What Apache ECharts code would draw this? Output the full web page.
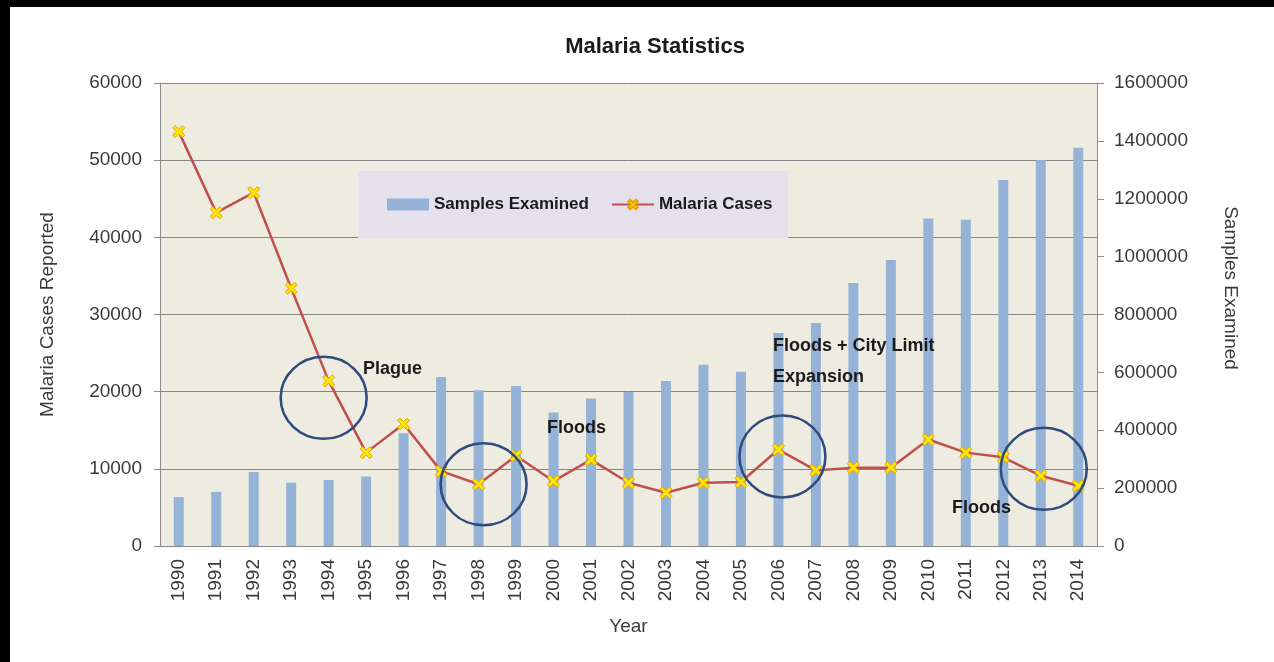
<!DOCTYPE html>
<html>
<head>
<meta charset="utf-8">
<script src="https://cdn.jsdelivr.net/npm/echarts@6/dist/echarts.min.js"></script>
<style>
html,body{margin:0;padding:0;background:#fff;}
#chart{width:1274px;height:662px;}
</style>
</head>
<body>
<div id="chart"></div>
<script>
var years = ['1990','1991','1992','1993','1994','1995','1996','1997','1998','1999','2000','2001','2002','2003','2004','2005','2006','2007','2008','2009','2010','2011','2012','2013','2014'];
var malariaCases = [53700,43200,45800,33400,21400,12100,15800,9700,8000,11700,8400,11200,8200,6900,8200,8300,12500,9800,10150,10150,13800,12100,11500,9100,7800];
var samplesExamined = [169000,187000,256000,219000,228000,240000,390000,584000,538000,553000,461000,510000,532000,570000,626000,602000,736000,771000,909000,988000,1132000,1127000,1265000,1334000,1376000];
var leftTicks = {min:0, max:60000, interval:10000};
var rightTicks = {min:0, max:1600000, interval:200000};

var FONT = "'Liberation Sans', Arial, sans-serif";
var chart = echarts.init(document.getElementById('chart'));

function plain(v) { return String(v); }

function circleMark(year, value, dx) {
  return {coord:[year, value], symbol:'circle', symbolSize:[86,82], symbolOffset:[dx,0],
    itemStyle:{color:'rgba(0,0,0,0)', borderColor:'#2F4B7C', borderWidth:2.5}, label:{show:false}};
}

var option = {
  backgroundColor:'#ffffff',
  animation:false,
  title:{
    text:'Malaria Statistics', left:650, top:31, textAlign:'center',
    textStyle:{fontFamily:FONT, fontWeight:'bold', fontSize:22, color:'#1a1a1a'}
  },
  legend:{
    left:358, top:171,
    padding:[25,16,25,29],
    backgroundColor:'#E5E1EC',
    itemWidth:42, itemHeight:12, itemGap:22,
    textStyle:{fontFamily:FONT, fontWeight:'bold', fontSize:17, color:'#1a1a1a'},
    data:[{name:'Samples Examined', icon:'rect'}, {name:'Malaria Cases'}]
  },
  grid:{left:160, right:177, top:83, bottom:116, show:true, backgroundColor:'#EEECE1', borderWidth:0},
  xAxis:{
    type:'category', data:years, boundaryGap:true,
    name:'Year', nameLocation:'middle', nameGap:71,
    nameTextStyle:{fontFamily:FONT, fontSize:19, color:'#3a3a3a'},
    axisLine:{show:true, lineStyle:{color:'#878787'}},
    axisTick:{show:false},
    axisLabel:{rotate:90, margin:13, fontFamily:FONT, fontSize:19, color:'#3a3a3a'}
  },
  yAxis:[{
    type:'value', min:leftTicks.min, max:leftTicks.max, interval:leftTicks.interval,
    name:'Malaria Cases Reported', nameLocation:'middle', nameGap:103, nameRotate:90,
    nameTextStyle:{fontFamily:FONT, fontSize:19, color:'#3a3a3a'},
    axisLine:{show:true, lineStyle:{color:'#8c8c8c'}},
    axisTick:{show:true, length:6, lineStyle:{color:'#8c8c8c'}},
    axisLabel:{margin:18, fontFamily:FONT, fontSize:19, color:'#3a3a3a', formatter:plain},
    splitLine:{show:true, lineStyle:{color:'#858585', width:1}}
  },{
    type:'value', position:'right', min:rightTicks.min, max:rightTicks.max, interval:rightTicks.interval,
    axisLine:{show:true, lineStyle:{color:'#8c8c8c'}},
    axisTick:{show:true, length:7, lineStyle:{color:'#8c8c8c'}},
    axisLabel:{margin:17, fontFamily:FONT, fontSize:19, color:'#3a3a3a', formatter:plain},
    splitLine:{show:false}
  }],
  series:[{
    name:'Samples Examined', type:'bar', yAxisIndex:1, data:samplesExamined,
    barWidth:10, itemStyle:{color:'#95B3D7'}, z:2
  },{
    name:'Malaria Cases', type:'line', yAxisIndex:0, data:malariaCases,
    lineStyle:{color:'#C0504D', width:2.5},
    itemStyle:{color:'#FFE600', borderColor:'#E8A400', borderWidth:1},
    symbol:'path://M0,2 L2,0 L5,3 L8,0 L10,2 L7,5 L10,8 L8,10 L5,7 L2,10 L0,8 L3,5 Z',
    symbolSize:12, showAllSymbol:true, z:3,
    markPoint:{
      silent:true, z:5,
      data:[
        circleMark('1994', 19200, -5),
        circleMark('1998', 8000, 5),
        circleMark('2006', 11600, 4),
        circleMark('2013', 10000, 3)
      ]
    }
  }],
  graphic:[
    {type:'rect', left:0, top:0, shape:{width:1274, height:7}, style:{fill:'#000'}, z:100},
    {type:'rect', left:0, top:0, shape:{width:10, height:662}, style:{fill:'#000'}, z:100},
    {type:'text', x:1230, y:288, rotation:-Math.PI/2, z:50,
      style:{text:'Samples Examined', fill:'#3a3a3a', font:'19px '+FONT, align:'center', verticalAlign:'middle'}},
    {type:'text', x:363, y:369, z:50, style:{text:'Plague', fill:'#1a1a1a', font:'bold 18px '+FONT, verticalAlign:'middle'}},
    {type:'text', x:547, y:428, z:50, style:{text:'Floods', fill:'#1a1a1a', font:'bold 18px '+FONT, verticalAlign:'middle'}},
    {type:'text', x:773, y:346, z:50, style:{text:'Floods + City Limit', fill:'#1a1a1a', font:'bold 18px '+FONT, verticalAlign:'middle'}},
    {type:'text', x:773, y:377, z:50, style:{text:'Expansion', fill:'#1a1a1a', font:'bold 18px '+FONT, verticalAlign:'middle'}},
    {type:'text', x:952, y:508, z:50, style:{text:'Floods', fill:'#1a1a1a', font:'bold 18px '+FONT, verticalAlign:'middle'}}
  ]
};
chart.setOption(option);
</script>
</body>
</html>
